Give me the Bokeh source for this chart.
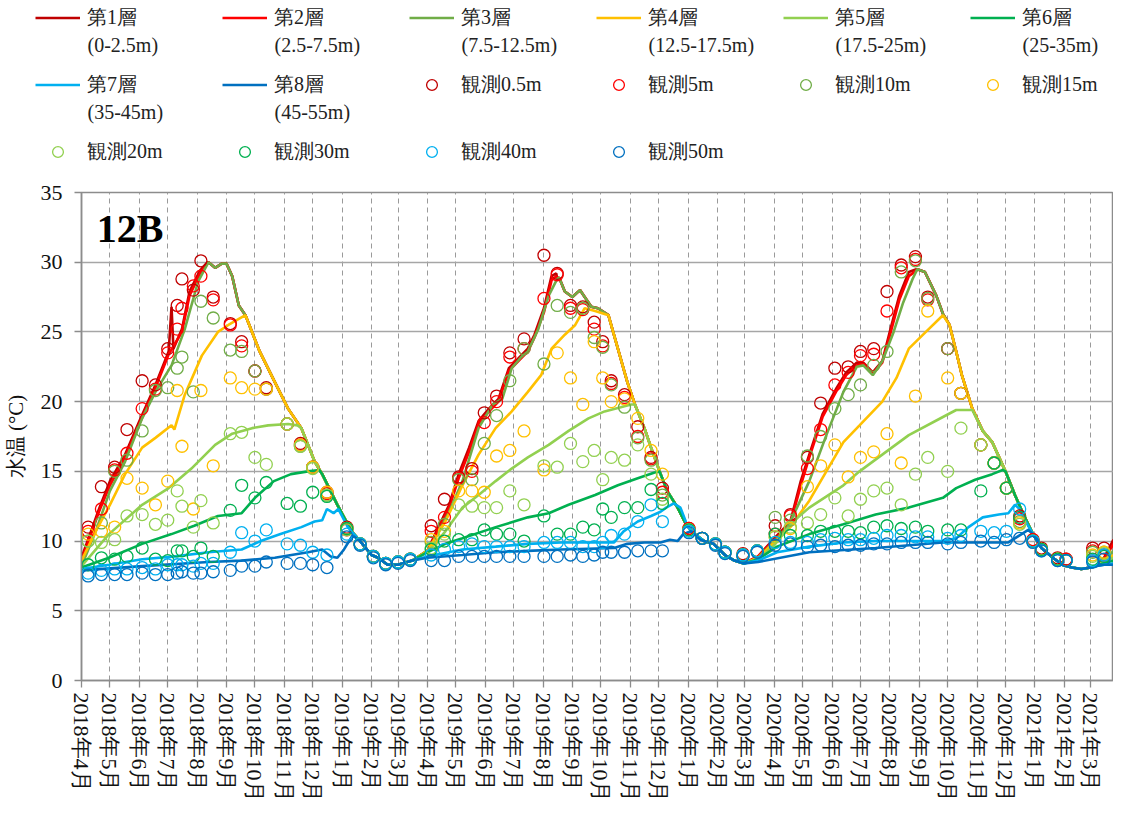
import pandas as pd
from bokeh.plotting import figure
from bokeh.layouts import column
from bokeh.models import (ColumnDataSource, Legend, LegendItem, FixedTicker, Label, Range1d)
from bokeh.embed import file_html
from bokeh.resources import INLINE

FONT = "Liberation Serif"

# ---------------- model layers (date, value) ----------------
# 2018 rising season (own part of each layer)
L1_18_D = ["2018-04-01","2018-04-10","2018-04-20","2018-05-01","2018-05-17","2018-06-01","2018-06-18","2018-07-02","2018-07-05","2018-07-07","2018-07-16","2018-07-24","2018-08-04","2018-08-12"]
L1_18_V = [8.8,10.5,12.4,14.3,16.2,18.6,21.2,23.6,26.8,23.8,25.2,27.9,29.4,30.0]
L2_18_D = ["2018-04-01","2018-04-10","2018-04-20","2018-05-01","2018-05-17","2018-06-01","2018-06-18","2018-07-02","2018-07-16","2018-07-24","2018-08-04","2018-08-12"]
L2_18_V = [8.6,10.3,12.2,14.0,16.0,18.4,21.0,23.4,25.0,27.6,29.2,29.9]
L3_18_D = ["2018-04-01","2018-04-16","2018-05-01","2018-05-17","2018-06-04","2018-06-18","2018-07-05","2018-07-19","2018-08-02","2018-08-13","2018-08-20","2018-08-27","2018-09-01","2018-09-07","2018-09-14","2018-09-21"]
L3_18_V = [8.2,10.7,13.6,15.7,18.8,20.7,22.6,25.2,28.6,30.0,29.6,29.9,29.9,29.0,26.9,26.2]
L4_18_D = ["2018-04-01","2018-04-16","2018-05-01","2018-05-17","2018-06-04","2018-06-18","2018-07-05","2018-07-08","2018-07-19","2018-08-06","2018-08-23","2018-09-03","2018-09-21"]
L4_18_V = [8.6,10.7,12.6,14.8,16.7,17.4,18.3,18.0,20.5,23.3,25.0,25.5,26.2]
L5_18_D = ["2018-04-01","2018-04-30","2018-06-04","2018-07-02","2018-07-26","2018-08-20","2018-09-07","2018-09-28","2018-10-15","2018-11-05","2018-11-15"]
L5_18_V = [8.2,10.5,12.6,13.8,15.2,16.9,17.7,18.1,18.3,18.4,18.3]
L6_18_D = ["2018-04-01","2018-04-30","2018-06-04","2018-07-05","2018-07-29","2018-08-23","2018-09-17","2018-10-01","2018-10-21","2018-11-08","2018-11-26","2018-12-08"]
L6_18_V = [8.1,8.8,9.8,10.5,11.1,11.8,12.0,13.1,14.3,14.8,15.0,15.1]
L7_18_D = ["2018-04-01","2018-04-30","2018-06-04","2018-07-09","2018-08-13","2018-09-17","2018-10-07","2018-10-28","2018-11-19","2018-12-03","2018-12-11","2018-12-16","2018-12-23","2018-12-28","2019-01-07"]
L7_18_V = [8.0,8.3,8.7,8.9,9.2,9.4,10.0,10.5,11.0,11.4,11.5,12.3,12.0,12.3,11.0]
L8_18_D = ["2018-04-01","2018-06-04","2018-08-13","2018-09-17","2018-10-22","2018-11-26","2018-12-11","2018-12-20","2018-12-27","2019-01-03","2019-01-12"]
L8_18_V = [7.9,8.2,8.5,8.6,8.8,9.2,9.4,8.9,8.8,9.4,10.4]
# 2018-19 common cooling / mixed line
DOWN18_D = ["2018-10-06","2018-10-22","2018-11-05","2018-11-19","2018-12-03","2018-12-11","2018-12-27","2019-01-11","2019-01-20","2019-02-01","2019-02-08","2019-02-18","2019-03-01","2019-03-16"]
DOWN18_V = [23.6,21.4,19.5,18.1,15.7,14.8,12.6,10.7,10.0,9.0,8.8,8.3,8.3,8.6]

# 2019 season
L1_19_D = ["2019-04-01","2019-04-14","2019-04-24","2019-05-04","2019-05-15","2019-05-25","2019-06-05","2019-06-15","2019-06-26","2019-07-06","2019-07-16","2019-07-23","2019-08-02","2019-08-10","2019-08-15"]
L1_19_V = [9.3,11.2,12.6,14.8,16.7,18.6,19.5,20.2,22.4,23.1,23.8,24.8,26.7,29.0,29.2]
L2_19_V = [9.3,11.0,12.4,14.5,16.4,18.4,19.3,20.0,22.2,22.9,23.6,24.6,26.4,28.7,29.0]
L3_19_D = ["2019-04-03","2019-04-24","2019-05-08","2019-05-25","2019-06-09","2019-06-19","2019-06-29","2019-07-09","2019-07-16","2019-07-27","2019-08-07","2019-08-16","2019-08-18","2019-08-24","2019-09-01","2019-09-09","2019-09-14","2019-09-21","2019-09-28","2019-10-09"]
L3_19_V = [9.4,12.1,14.3,18.1,19.8,20.2,22.4,23.2,23.6,25.2,27.6,28.8,28.9,27.9,27.5,28.0,27.5,26.8,26.7,26.2]
L4_19_D = ["2019-04-01","2019-04-20","2019-05-08","2019-05-25","2019-06-12","2019-06-29","2019-07-16","2019-07-30","2019-08-10","2019-08-24","2019-09-04","2019-09-14","2019-09-25","2019-10-09"]
L4_19_V = [9.3,11.4,14.0,16.2,18.1,19.3,20.7,21.9,23.8,24.8,25.5,26.7,26.5,26.2]
L5_19_D = ["2019-04-01","2019-04-20","2019-05-08","2019-05-25","2019-06-12","2019-06-29","2019-07-16","2019-08-07","2019-08-28","2019-09-18","2019-10-05","2019-10-22","2019-11-02"]
L5_19_V = [9.2,10.7,12.4,13.3,14.3,15.2,16.0,16.9,17.9,18.8,19.3,19.6,19.8]
L6_19_D = ["2019-04-01","2019-04-20","2019-05-08","2019-06-12","2019-07-16","2019-08-07","2019-08-28","2019-09-25","2019-10-19","2019-11-09","2019-11-26"]
L6_19_V = [9.2,9.8,10.2,11.0,11.7,12.0,12.6,13.3,14.0,14.5,14.9]
L7_19_D = ["2019-04-01","2019-05-08","2019-06-12","2019-07-16","2019-08-20","2019-10-15","2019-10-25","2019-11-09","2019-11-23","2019-12-03","2019-12-09","2019-12-17","2019-12-24","2020-01-01"]
L7_19_V = [8.9,9.4,9.6,9.8,9.9,9.9,10.7,11.4,11.8,12.1,12.4,12.7,12.4,11.0]
L8_19_D = ["2019-04-01","2019-05-08","2019-06-12","2019-07-16","2019-08-20","2019-10-15","2019-10-29","2019-11-16","2019-12-03","2019-12-13","2019-12-21","2019-12-27","2020-01-04","2020-01-14"]
L8_19_V = [8.8,9.0,9.2,9.3,9.4,9.5,9.8,9.9,9.9,10.1,10.0,10.5,10.7,10.1]
DOWN19_D = ["2019-10-19","2019-10-29","2019-11-06","2019-11-16","2019-11-23","2019-12-02","2019-12-10","2019-12-21","2019-12-30","2020-01-08","2020-01-18","2020-01-28","2020-02-09","2020-02-19","2020-02-29"]
DOWN19_V = [23.8,21.4,19.8,18.1,16.7,15.0,13.6,12.4,11.2,10.5,10.0,9.8,9.0,8.6,8.4]

# 2020 season
L1_20_D = ["2020-03-15","2020-04-01","2020-04-18","2020-04-29","2020-05-08","2020-05-22","2020-06-06","2020-06-16","2020-06-27","2020-07-04","2020-07-14","2020-07-24","2020-08-02","2020-08-11","2020-08-21","2020-08-29"]
L1_20_V = [8.9,10.2,11.4,14.3,16.2,19.1,21.0,22.1,22.8,22.8,22.1,22.9,25.3,27.6,29.3,29.5]
L2_20_V = [8.9,10.1,11.2,14.0,16.0,18.9,20.8,21.9,22.6,22.7,22.0,22.8,25.0,27.3,29.0,29.4]
L3_20_D = ["2020-03-15","2020-04-01","2020-04-15","2020-04-25","2020-05-08","2020-05-26","2020-06-13","2020-06-27","2020-07-04","2020-07-14","2020-07-24","2020-08-05","2020-08-15","2020-08-25","2020-08-30","2020-09-07","2020-09-19","2020-09-26"]
L3_20_V = [8.8,10.0,11.0,12.4,14.3,17.6,20.7,22.5,22.6,21.9,22.9,25.0,27.1,28.8,29.5,29.3,27.6,26.3]
L4_20_D = ["2020-03-15","2020-04-01","2020-04-18","2020-05-08","2020-05-26","2020-06-13","2020-06-30","2020-07-24","2020-08-08","2020-08-21","2020-09-08","2020-09-26"]
L4_20_V = [8.8,9.9,11.0,12.9,15.0,17.1,18.3,20.0,21.7,23.8,25.0,26.2]
L5_20_D = ["2020-03-15","2020-04-01","2020-04-21","2020-05-08","2020-06-13","2020-06-30","2020-07-24","2020-08-21","2020-09-26","2020-10-10","2020-10-27"]
L5_20_V = [8.7,9.7,11.4,12.4,14.0,15.0,16.2,17.6,18.9,19.4,19.4]
L6_20_D = ["2020-03-15","2020-04-04","2020-05-08","2020-06-13","2020-07-17","2020-08-21","2020-09-26","2020-10-10","2020-10-30","2020-11-17","2020-11-28"]
L6_20_V = [8.7,9.6,10.5,11.2,11.9,12.4,13.1,13.8,14.4,14.8,15.1]
L7_20_D = ["2020-03-15","2020-04-04","2020-05-08","2020-06-13","2020-07-17","2020-09-26","2020-10-10","2020-10-23","2020-11-07","2020-11-24","2020-12-04","2020-12-11","2020-12-16","2020-12-20"]
L7_20_V = [8.6,9.2,9.6,9.9,10.0,10.0,10.2,11.0,11.7,11.9,12.0,12.6,12.3,11.7]
L8_20_D = ["2020-03-15","2020-05-08","2020-07-17","2020-09-26","2020-10-30","2020-12-04","2020-12-18","2020-12-25"]
L8_20_V = [8.5,9.2,9.5,9.9,9.9,9.9,10.5,10.8]
DOWN20_D = ["2020-10-03","2020-10-10","2020-10-16","2020-10-27","2020-11-07","2020-11-17","2020-12-01","2020-12-11","2020-12-20","2020-12-30","2021-01-08","2021-01-20","2021-01-30","2021-02-09","2021-02-19","2021-03-01","2021-03-06"]
DOWN20_V = [25.5,23.6,21.9,19.5,17.9,17.1,15.0,13.3,11.9,10.5,9.5,8.8,8.3,8.1,8.0,8.1,8.2]
END_D = ["2021-03-15","2021-03-25"]
END_V = [[8.8,10.1],[8.7,9.8],[8.6,9.3],[8.5,9.0],[8.5,8.8],[8.4,8.6],[8.3,8.4],[8.3,8.3]]

# ---------------- observations ----------------
OBS_D18 = ["2018-04-08","2018-04-22","2018-05-06","2018-05-19","2018-06-04","2018-06-18","2018-07-01","2018-07-11","2018-07-16","2018-07-28","2018-08-05","2018-08-18","2018-09-05","2018-09-17","2018-10-01","2018-10-13","2018-11-04","2018-11-18","2018-12-01","2018-12-16","2019-01-06","2019-01-20","2019-02-03"]
OBS_D19 = ["2019-02-16","2019-03-01","2019-03-14","2019-04-05","2019-04-19","2019-05-04","2019-05-18","2019-05-31","2019-06-13","2019-06-27","2019-07-12","2019-08-02","2019-08-16","2019-08-30","2019-09-12","2019-09-24","2019-10-03","2019-10-12","2019-10-26","2019-11-09","2019-11-23","2019-12-05","2020-01-02","2020-01-16","2020-01-30"]
OBS_D20 = ["2020-02-09","2020-02-28","2020-03-14","2020-04-02","2020-04-18","2020-05-06","2020-05-20","2020-06-04","2020-06-18","2020-07-01","2020-07-15","2020-07-29","2020-08-13","2020-08-28","2020-09-10","2020-10-01","2020-10-15","2020-11-05","2020-11-19","2020-12-02","2020-12-16","2020-12-30","2021-01-08","2021-01-25","2021-02-03","2021-03-03","2021-03-15"]

OBS_05 = ([11.0,13.9,15.3,18.0,21.5,21.2,23.8,26.9,28.8,28.0,30.1,27.5,25.6,24.3,22.2,21.0,18.4,17.0,15.3,13.5,11.0,9.8,8.9]
          + [8.4,8.5,8.7,11.1,13.0,14.6,15.2,19.2,20.4,23.5,24.5,30.5,29.2,26.9,26.8,25.7,24.3,21.5,20.5,18.2,16.0,13.8,10.9,10.2,9.8]
          + [9.2,9.1,9.3,11.1,11.9,16.0,19.9,22.4,22.5,23.6,23.8,27.9,29.8,30.4,27.5,23.8,20.6,16.9,15.6,13.8,11.8,10.1,9.5,8.8,8.7,9.5,9.5])
OBS_5 = ([10.7,12.3,15.1,16.3,19.5,20.9,23.5,25.2,26.7,28.3,29.0,27.3,25.5,24.0,22.2,20.9,18.4,16.9,15.3,13.4,10.8,9.8,8.9]
         + [8.4,8.5,8.7,10.7,11.7,14.5,15.0,18.5,20.0,23.2,23.8,27.4,29.1,26.7,26.6,25.2,24.0,21.3,20.3,17.5,15.9,13.5,10.9,10.2,9.8]
         + [9.2,9.0,9.3,10.5,11.8,15.2,18.0,21.2,22.1,23.3,23.4,26.5,29.6,30.2,27.3,23.8,20.6,16.9,15.6,13.8,11.6,10.1,9.4,8.7,8.7,9.3,9.0])
OBS_10 = ([10.0,11.3,15.0,15.8,17.9,20.8,21.0,22.4,23.2,20.7,27.2,26.0,23.7,23.6,22.2,20.9,18.4,16.8,15.3,13.3,10.9,9.8,8.9]
          + [8.4,8.5,8.7,9.9,11.2,14.4,14.4,17.0,19.0,21.5,23.8,22.7,26.9,26.4,26.7,24.6,23.9,21.2,19.6,17.4,15.8,13.3,10.8,10.2,9.8]
          + [9.2,9.0,9.3,11.7,11.5,16.1,17.5,19.5,20.5,21.2,22.6,23.6,29.3,30.1,27.4,23.8,20.6,16.9,15.6,13.8,11.4,10.0,9.4,8.7,8.6,9.2,9.2])
OBS_15 = ([10.5,10.7,11.0,14.5,13.8,12.6,14.3,20.8,16.8,12.3,20.8,15.4,21.7,21.0,20.9,20.9,18.4,16.9,15.3,13.5,10.9,9.8,8.9]
          + [8.4,8.5,8.7,10.1,10.7,13.6,13.6,13.5,16.1,16.5,17.9,15.1,23.5,21.7,19.8,24.3,21.7,20.0,20.2,18.8,16.5,14.8,10.8,10.2,9.8]
          + [9.2,9.0,9.3,10.3,10.9,13.9,15.4,16.9,14.6,16.0,16.4,17.7,15.6,20.4,26.5,21.7,20.6,16.9,15.6,13.8,11.3,10.0,9.4,8.7,8.6,9.0,9.2])
OBS_20 = ([10.0,9.9,10.1,11.8,11.9,11.2,11.5,13.6,12.5,11.0,12.9,11.3,17.7,17.8,16.0,15.5,18.4,16.8,15.2,13.3,10.8,9.8,8.9]
          + [8.4,8.5,8.7,9.5,10.5,12.6,12.5,12.4,12.4,13.6,12.6,15.4,15.3,17.0,15.7,16.5,14.4,16.0,15.8,16.9,14.8,13.0,10.8,10.2,9.8]
          + [9.2,9.0,9.3,10.3,11.0,11.3,11.9,13.1,11.8,13.0,13.6,13.8,12.6,14.8,16.0,15.0,18.1,16.9,15.6,13.8,11.2,10.0,9.4,8.7,8.6,8.9,9.1])
OBS_30 = ([8.3,8.8,8.7,8.9,9.5,8.7,8.6,9.3,9.3,8.9,9.5,8.9,12.2,14.0,13.1,14.2,12.7,12.5,13.5,13.2,10.9,9.8,8.9]
          + [8.4,8.5,8.7,9.4,10.0,10.1,10.1,10.8,10.5,10.5,10.0,11.8,10.5,10.5,11.0,10.8,12.3,11.7,12.4,12.4,13.7,12.7,10.8,10.2,9.8]
          + [9.2,9.0,9.3,10.5,10.4,10.4,10.7,10.7,10.7,10.6,11.0,11.1,10.9,11.0,10.7,10.8,10.8,13.6,15.6,13.8,11.7,10.0,9.4,8.7,8.6,8.7,8.9])
OBS_40 = ([7.7,7.9,8.0,8.0,8.1,8.0,8.3,8.3,8.3,8.2,8.4,8.4,9.2,10.6,10.0,10.8,9.8,9.7,9.2,9.0,10.5,9.8,8.9]
          + [8.4,8.5,8.7,9.0,9.4,9.6,9.8,9.6,9.6,9.6,9.6,9.9,9.9,9.9,9.6,9.6,9.9,10.4,10.5,11.4,12.6,11.4,10.7,10.2,9.8]
          + [9.2,9.0,9.3,9.9,9.9,9.9,10.1,10.2,10.1,10.1,10.2,10.4,10.4,10.3,10.3,10.2,10.4,10.7,10.6,10.7,12.3,10.0,9.3,8.6,8.6,8.6,9.0])
OBS_50 = ([7.5,7.6,7.6,7.6,7.7,7.6,7.6,7.7,7.8,7.7,7.7,7.8,7.9,8.2,8.2,8.5,8.4,8.4,8.3,8.1,10.3,9.7,8.8]
          + [8.3,8.4,8.6,8.6,8.6,8.9,8.9,8.9,8.9,8.9,8.9,8.9,8.9,9.0,8.9,9.0,9.2,9.2,9.2,9.3,9.3,9.3,10.6,10.2,9.7]
          + [9.1,8.9,9.2,9.7,9.8,9.6,9.7,9.6,9.7,9.7,9.8,9.8,9.9,9.9,9.9,9.8,9.9,10.0,9.9,10.1,10.2,9.9,9.3,8.6,8.6,8.5,8.7])

LAYER_NAMES = ["第1層", "第2層", "第3層", "第4層", "第5層", "第6層", "第7層", "第8層"]
LAYER_DEPTHS = ["(0-2.5m)", "(2.5-7.5m)", "(7.5-12.5m)", "(12.5-17.5m)", "(17.5-25m)", "(25-35m)", "(35-45m)", "(45-55m)"]
OBS_NAMES = ["観測0.5m", "観測5m", "観測10m", "観測15m", "観測20m", "観測30m", "観測40m", "観測50m"]
COLORS = ["#C00000", "#FF0000", "#70AD47", "#FFC000", "#92D050", "#00B050", "#00B0F0", "#0070C0"]

X_START, X_END = "2018-04-01", "2021-03-25"
Y_TICKS = [0, 5, 10, 15, 20, 25, 30, 35]


# ---------------- assemble series ----------------
def seg(dates, vals):
    return list(zip(pd.to_datetime(dates), vals))


def join(*parts):
    out = []
    for part in parts:
        if out:
            part = [(d, v) for d, v in part if d > out[-1][0]]
        out += part
    return out


down18, down19, down20 = seg(DOWN18_D, DOWN18_V), seg(DOWN19_D, DOWN19_V), seg(DOWN20_D, DOWN20_V)
l3_18, l3_19, l3_20 = seg(L3_18_D, L3_18_V), seg(L3_19_D, L3_19_V), seg(L3_20_D, L3_20_V)
ends = [seg(END_D, v) for v in END_V]

layers = [
    join(seg(L1_18_D, L1_18_V), l3_18, down18, seg(L1_19_D, L1_19_V), l3_19, down19, seg(L1_20_D, L1_20_V), l3_20, down20, ends[0]),
    join(seg(L2_18_D, L2_18_V), l3_18, down18, seg(L1_19_D, L2_19_V), l3_19, down19, seg(L1_20_D, L2_20_V), l3_20, down20, ends[1]),
    join(l3_18, down18, l3_19, down19, l3_20, down20, ends[2]),
    join(seg(L4_18_D, L4_18_V), down18, seg(L4_19_D, L4_19_V), down19, seg(L4_20_D, L4_20_V), down20, ends[3]),
    join(seg(L5_18_D, L5_18_V), down18, seg(L5_19_D, L5_19_V), down19, seg(L5_20_D, L5_20_V), down20, ends[4]),
    join(seg(L6_18_D, L6_18_V), down18, seg(L6_19_D, L6_19_V), down19, seg(L6_20_D, L6_20_V), down20, ends[5]),
    join(seg(L7_18_D, L7_18_V), down18, seg(L7_19_D, L7_19_V), down19, seg(L7_20_D, L7_20_V), down20, ends[6]),
    join(seg(L8_18_D, L8_18_V), down18, seg(L8_19_D, L8_19_V), down19, seg(L8_20_D, L8_20_V), down20, ends[7]),
]
obs_dates = pd.to_datetime(OBS_D18 + OBS_D19 + OBS_D20)
obs_vals = [OBS_05, OBS_5, OBS_10, OBS_15, OBS_20, OBS_30, OBS_40, OBS_50]


def ms(s):
    return pd.Timestamp(s).value // 10**6


months = pd.date_range(X_START, X_END, freq="MS")
tick_ms = [int(m.value // 10**6) for m in months]
tick_labels = {t: f"{m.year}年{m.month}月" for t, m in zip(tick_ms, months)}

LINE_W = 2.6
CIRCLE_SIZE = 12

# ---------------- main chart ----------------
p = figure(width=1113, height=625, x_axis_type="datetime",
           x_range=Range1d(ms(X_START), ms(X_END)), y_range=Range1d(0, 35),
           output_backend="svg", toolbar_location=None,
           min_border_left=77, min_border_right=0, min_border_top=12, min_border_bottom=122)
p.outline_line_color = "#8c8c8c"
p.outline_line_width = 1.5

p.xaxis.ticker = FixedTicker(ticks=tick_ms)
p.xaxis.major_label_overrides = tick_labels
p.xaxis.major_label_orientation = "vertical"
p.yaxis.ticker = FixedTicker(ticks=Y_TICKS)
for ax in (p.xaxis[0], p.yaxis[0]):
    ax.axis_line_color = "#8c8c8c"
    ax.axis_line_width = 1.5
    ax.major_tick_line_color = "#8c8c8c"
    ax.major_tick_line_width = 1.3
    ax.major_tick_out = 7
    ax.major_tick_in = 0
    ax.minor_tick_line_color = None
    ax.major_label_text_font = FONT
    ax.major_label_text_font_size = "22px"
    ax.major_label_text_color = "#111111"
p.yaxis.major_label_standoff = 12
p.xaxis.major_label_standoff = 5
p.yaxis.axis_label = "水温 (°C)"
p.yaxis.axis_label_text_font = FONT
p.yaxis.axis_label_text_font_size = "21px"
p.yaxis.axis_label_text_font_style = "normal"
p.yaxis.axis_label_text_color = "#111111"
p.yaxis.axis_label_standoff = 10

p.ygrid.ticker = FixedTicker(ticks=Y_TICKS)
p.ygrid.grid_line_color = "#a6a6a6"
p.ygrid.grid_line_width = 1.3
p.xgrid.ticker = FixedTicker(ticks=tick_ms)
p.xgrid.grid_line_color = "#9a9a9a"
p.xgrid.grid_line_dash = "5 4"
p.xgrid.grid_line_width = 1

for series, c in zip(layers, COLORS):
    src = ColumnDataSource(dict(x=[d for d, _ in series], y=[v for _, v in series]))
    p.line("x", "y", source=src, line_color=c, line_width=LINE_W)

for vals, c in zip(obs_vals, COLORS):
    src = ColumnDataSource(dict(x=obs_dates, y=vals))
    p.scatter("x", "y", source=src, marker="circle", size=CIRCLE_SIZE,
              fill_color=None, line_color=c, line_width=1.3)

p.add_layout(Label(x=ms("2018-04-17"), y=32.4, text="12B", text_font=FONT,
                   text_baseline="alphabetic",
                   text_font_size="40px", text_font_style="bold", text_color="#000000"))

# ---------------- legend strip above the chart ----------------
LEG_W, LEG_H = 1113, 180
LEG_COL, LEG_ROW = 187, 67          # pitch of legend columns / rows (px)
LEG_GLYPH_W, LEG_STANDOFF, LEG_ITEM_H = 45, 7, 27
LEG_X0 = 35                         # left edge of the first legend glyph (px)
LEG_TOP = 4                         # top edge of the first legend row (px)

leg = figure(width=LEG_W, height=LEG_H, x_range=Range1d(0, LEG_W), y_range=Range1d(LEG_H, 0),
             output_backend="svg", toolbar_location=None,
             x_axis_location=None, y_axis_location=None,
             min_border_left=0, min_border_right=0, min_border_top=0, min_border_bottom=0)
# keep the strip's frame independent of the chart's frame below it
for fig in (leg, p):
    if "frame_align" in fig.properties():
        fig.frame_align = False
leg.outline_line_color = None
leg.grid.visible = False
# legend-only renderers: their points lie outside the strip's ranges, so only the legend shows them
OFF = [-50, -40]
leg_lines = [leg.line(x=OFF, y=OFF, line_color=c, line_width=LINE_W) for c in COLORS]
leg_obs = [leg.scatter(x=OFF, y=OFF, marker="circle", size=CIRCLE_SIZE - 1, fill_color=None,
                       line_color=c, line_width=1.3) for c in COLORS]
items = ([LegendItem(label=n, renderers=[r]) for n, r in zip(LAYER_NAMES, leg_lines)]
         + [LegendItem(label=n, renderers=[r]) for n, r in zip(OBS_NAMES, leg_obs)])
spacing = LEG_ROW - LEG_ITEM_H
legend_h = 3 * LEG_ITEM_H + 2 * spacing
legend = Legend(items=items, ncols=6, orientation="horizontal",
                location=(LEG_X0, LEG_H - (LEG_TOP + legend_h)),
                glyph_width=LEG_GLYPH_W, glyph_height=LEG_ITEM_H, label_height=LEG_ITEM_H,
                label_width=LEG_COL - LEG_GLYPH_W - LEG_STANDOFF - spacing,
                label_standoff=LEG_STANDOFF, spacing=spacing, padding=0, margin=0,
                border_line_color=None, background_fill_alpha=0, label_text_font=FONT,
                label_text_font_size="20px", label_text_color="#222222")
leg.add_layout(legend, "center")

# second line of each layer entry (depth range), placed under the layer name
for i, txt in enumerate(LAYER_DEPTHS):
    r, c = divmod(i, 6)
    leg.add_layout(Label(x=LEG_X0 + c * LEG_COL + LEG_GLYPH_W + LEG_STANDOFF,
                         y=LEG_TOP + r * LEG_ROW + LEG_ITEM_H / 2 + 27, text=txt,
                         text_baseline="middle", text_align="left", text_font=FONT,
                         text_font_size="20px", text_color="#222222"))

layout = column(leg, p, spacing=0)
open("out.html", "w").write(file_html(layout, INLINE))
